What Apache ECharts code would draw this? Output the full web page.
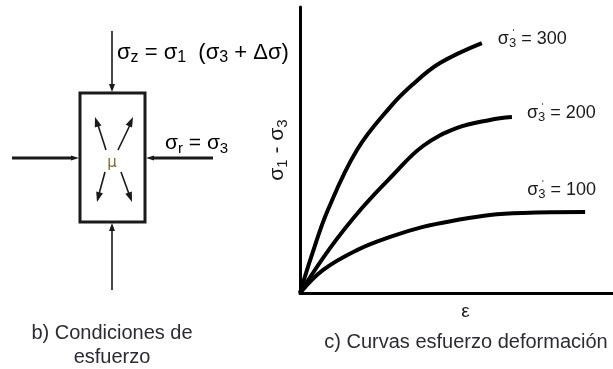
<!DOCTYPE html>
<html>
<head>
<meta charset="utf-8">
<script src="https://cdn.jsdelivr.net/npm/echarts@6/dist/echarts.min.js"></script>
<style>
  html, body { margin: 0; padding: 0; background: #fff; }
  #chart { width: 613px; height: 369px; }
</style>
</head>
<body>
<div id="chart"></div>
<script>
// Stress–strain curves for three confining pressures (arbitrary units)
const strain300 = [0, 3.8, 8.9, 18.2, 28.8, 35.8, 44.7, 58.1];
const stress300 = [0, 13.3, 29.0, 50.0, 65.0, 72.7, 80.4, 87.4];

const strain200 = [0, 9.6, 19.8, 29.4, 39.3, 50.2, 60.7, 67.7];
const stress200 = [0, 15.7, 29.7, 40.9, 51.4, 57.7, 60.5, 61.5];

const strain100 = [0, 7.3, 18.2, 28.8, 39.3, 50.2, 60.7, 71.2, 91.1];
const stress100 = [0, 8.0, 15.0, 19.6, 23.1, 25.5, 27.3, 28.0, 28.3];

const confining = ['300', '200', '100'];

const FONT = '"Liberation Sans", Arial, sans-serif';
const INK = '#1a1a1a';

function pairs(xs, ys) {
  return xs.map((x, i) => [x, ys[i]]);
}

// filled triangular arrow head pointing at (tipX, tipY), coming from (fromX, fromY)
function arrowHead(tipX, tipY, fromX, fromY, len, half) {
  const dx = tipX - fromX, dy = tipY - fromY;
  const d = Math.hypot(dx, dy);
  const ux = dx / d, uy = dy / d;
  const bx = tipX - ux * len, by = tipY - uy * len;
  return {
    type: 'polygon',
    shape: { points: [[tipX, tipY], [bx - uy * half, by + ux * half], [bx + uy * half, by - ux * half]] },
    style: { fill: INK }
  };
}

function seg(x1, y1, x2, y2, w) {
  return { type: 'line', shape: { x1, y1, x2, y2 }, style: { stroke: INK, lineWidth: w } };
}

const symRich = {
  g: { fontFamily: FONT, fontSize: 22, lineHeight: 26, color: INK },
  sb: { fontFamily: FONT, fontSize: 16, verticalAlign: 'bottom', color: INK }
};

const axisRich = {
  g: { fontFamily: FONT, fontSize: 21, lineHeight: 26, color: INK },
  sb: { fontFamily: FONT, fontSize: 15, verticalAlign: 'bottom', color: INK }
};

const labelRich = {
  g: { fontFamily: FONT, fontSize: 18, lineHeight: 22, color: INK },
  p: { fontFamily: FONT, fontSize: 13, verticalAlign: 'bottom', color: INK },
  q: { fontFamily: FONT, fontSize: 13, verticalAlign: 'top', width: 0, color: INK }
};

function curve(xs, ys, idx, offset) {
  return {
    type: 'line',
    data: pairs(xs, ys),
    smooth: 0.4,
    showSymbol: false,
    lineStyle: { color: '#000', width: 4 },
    endLabel: {
      show: true,
      distance: 0,
      align: 'left',
      verticalAlign: 'middle',
      offset: offset,
      formatter: () => '{g|σ}{q|\u2009ˈ}{p|3}{g| = ' + confining[idx] + '}',
      rich: labelRich
    }
  };
}

const chart = echarts.init(document.getElementById('chart'), null, { renderer: 'canvas' });

chart.setOption({
  animation: false,
  backgroundColor: '#fff',
  grid: { left: 300, right: 0, top: 7, bottom: 76 },
  xAxis: {
    type: 'value', min: 0, max: 100,
    axisLine: { show: true, lineStyle: { color: '#000', width: 3 } },
    axisTick: { show: false }, axisLabel: { show: false }, splitLine: { show: false },
    name: 'ε', nameLocation: 'middle', nameGap: 9,
    nameTextStyle: { fontFamily: FONT, fontSize: 19, color: INK, padding: [0, 0, 0, 18] }
  },
  yAxis: {
    type: 'value', min: 0, max: 100,
    axisLine: { show: true, lineStyle: { color: '#000', width: 3 } },
    axisTick: { show: false }, axisLabel: { show: false }, splitLine: { show: false },
    name: '{g|σ}{sb|1}{g| - σ}{sb|3}', nameLocation: 'middle', nameRotate: 90, nameGap: 10,
    nameTextStyle: { rich: axisRich }
  },
  series: [
    curve(strain300, stress300, 0, [16, -4]),
    curve(strain200, stress200, 1, [15, -4]),
    curve(strain100, stress100, 2, [-58, -22])
  ],
  graphic: [
    // specimen
    { type: 'rect', shape: { x: 80, y: 93, width: 65, height: 129 },
      style: { stroke: INK, lineWidth: 3, fill: 'transparent' } },
    // axial load
    seg(112, 31, 112, 86, 1.6), arrowHead(112, 92, 112, 31, 8, 3),
    seg(112, 229, 112, 290, 1.6), arrowHead(112, 223, 112, 290, 8, 3),
    // radial load
    seg(12, 158, 73, 158, 3), arrowHead(79, 158, 12, 158, 8, 2.6),
    seg(152, 158, 213, 158, 3), arrowHead(146, 158, 213, 158, 8, 2.6),
    // pore pressure arrows
    seg(106, 150, 98, 125, 1.6), arrowHead(95, 117, 106, 150, 10, 3.5),
    seg(118, 150, 130, 125, 1.6), arrowHead(133, 117, 118, 150, 10, 3.5),
    seg(105, 172, 99, 194, 1.6), arrowHead(97, 202, 105, 172, 10, 3.5),
    seg(121, 172, 129, 194, 1.6), arrowHead(132, 202, 121, 172, 10, 3.5),
    { type: 'text', x: 112, y: 163,
      style: { text: 'μ', font: '15px "DejaVu Sans", sans-serif', fill: '#7a6e25', align: 'center', verticalAlign: 'middle' } },
    // stress notation
    { type: 'text', x: 117, y: 53,
      style: { text: '{g|σ}{sb|z}{g| = σ}{sb|1}{g|  (σ}{sb|3}{g| + Δσ)}', rich: symRich, align: 'left', verticalAlign: 'middle' } },
    { type: 'text', x: 165, y: 143,
      style: { text: '{g|σ}{sb|r}{g| = σ}{sb|3}', rich: axisRich, align: 'left', verticalAlign: 'middle' } },
    // captions
    { type: 'text', x: 112, y: 333,
      style: { text: 'b) Condiciones de', font: '20px ' + FONT, fill: '#2e2a33', align: 'center', verticalAlign: 'middle' } },
    { type: 'text', x: 112, y: 357,
      style: { text: 'esfuerzo', font: '20px ' + FONT, fill: '#2e2a33', align: 'center', verticalAlign: 'middle' } },
    { type: 'text', x: 466, y: 342,
      style: { text: 'c) Curvas esfuerzo deformación', font: '20px ' + FONT, fill: '#2e2a33', align: 'center', verticalAlign: 'middle' } }
  ]
});
</script>
</body>
</html>
